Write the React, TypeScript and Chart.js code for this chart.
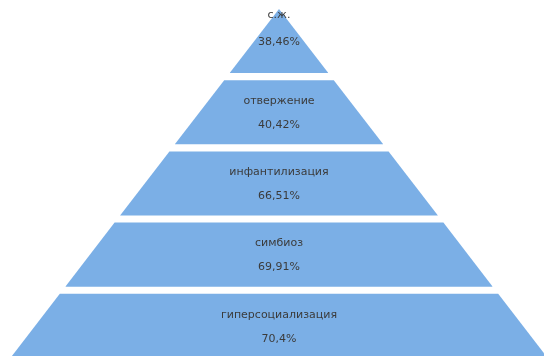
import React, { useEffect, useRef } from "react";
import { Chart, registerables } from "chart.js";

Chart.register(...registerables);

// Levels of the pyramid, top to bottom
const levels: string[] = ["с.ж.", "отвержение", "инфантилизация", "симбиоз", "гиперсоциализация"];
// Percent value shown in each level
const percents: number[] = [38.46, 40.42, 66.51, 69.91, 70.4];

const FILL = "#7BAFE6";
const TEXT = "#3b3b3b";
const BAND = 0.9; // fraction of each level's slot filled (rest is the white gap)

const fmt = (v: number) => String(v).replace(".", ",") + "%";

const labelPlugin = {
  id: "pyramidLabels",
  afterDatasetsDraw(chart: any) {
    const { ctx, scales } = chart;
    const xs = scales.x;
    const ys = scales.y;
    const cx = xs.getPixelForValue(0);
    ctx.save();
    ctx.fillStyle = TEXT;
    ctx.font = '11px "DejaVu Sans"';
    ctx.textAlign = "center";
    ctx.textBaseline = "middle";
    levels.forEach((name, i) => {
      const cy = ys.getPixelForValue(i + BAND / 2);
      const top = i === 0;
      ctx.fillText(name, cx, cy + (top ? -26 : -11));
      ctx.fillText(fmt(percents[i]), cx, cy + (top ? 1 : 13));
    });
    ctx.restore();
  },
};

export default function App() {
  const ref = useRef<HTMLCanvasElement>(null);

  useEffect(() => {
    if (!ref.current) return;
    const datasets = levels.map((name, i) => {
      const t = i;
      const b = i + BAND;
      return {
        label: name,
        data: [
          { x: -b, y: b },
          { x: -t, y: t },
          { x: t, y: t },
          { x: b, y: b },
        ],
        fill: { value: b },
        backgroundColor: FILL,
        borderColor: "rgba(0,0,0,0)",
        borderWidth: 0,
        pointRadius: 0,
        tension: 0,
      };
    });
    const chart = new Chart(ref.current, {
      type: "line",
      data: { datasets },
      options: {
        animation: false,
        responsive: false,
        devicePixelRatio: 1,
        layout: { padding: 0 },
        plugins: {
          legend: { display: false },
          tooltip: { enabled: false },
          title: { display: false },
        },
        scales: {
          x: { type: "linear", display: false, min: -279 / 54.8, max: 265 / 54.8 },
          y: { type: "linear", display: false, reverse: true, min: -9 / 71.2, max: 347 / 71.2 },
        },
      },
      plugins: [labelPlugin],
    } as any);
    return () => chart.destroy();
  }, []);

  return (
    <div style={{ position: "fixed", left: 0, top: 0, width: 544, height: 356, background: "#fff" }}>
      <canvas ref={ref} width={544} height={356} style={{ display: "block" }} />
    </div>
  );
}
